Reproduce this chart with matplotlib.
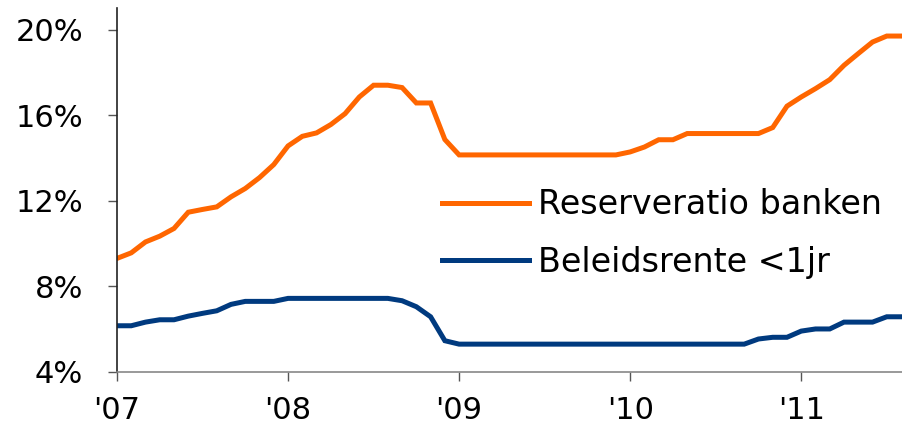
import numpy as np
import matplotlib
matplotlib.use("Agg")
import matplotlib.pyplot as plt

# monthly observations, Jan 2007 .. Aug 2011 (in %)
reserve_ratio = [
    9.30, 9.56, 10.07, 10.34, 10.70, 11.46, 11.59, 11.71, 12.18, 12.57, 13.08, 13.69,
    14.56, 15.01, 15.17, 15.56, 16.07, 16.85, 17.40, 17.40, 17.29, 16.57, 16.57, 14.86,
    14.14, 14.14, 14.14, 14.14, 14.14, 14.14, 14.14, 14.14, 14.14, 14.14, 14.14, 14.14,
    14.28, 14.51, 14.85, 14.85, 15.14, 15.14, 15.14, 15.14, 15.14, 15.14, 15.42, 16.42,
    16.85, 17.24, 17.66, 18.33, 18.88, 19.42, 19.70, 19.70,
]
policy_rate = [
    6.15, 6.15, 6.32, 6.43, 6.43, 6.60, 6.73, 6.85, 7.15, 7.29, 7.29, 7.29,
    7.43, 7.43, 7.43, 7.43, 7.43, 7.43, 7.43, 7.43, 7.32, 7.04, 6.57, 5.45,
    5.29, 5.29, 5.29, 5.29, 5.29, 5.29, 5.29, 5.29, 5.29, 5.29, 5.29, 5.29,
    5.29, 5.29, 5.29, 5.29, 5.29, 5.29, 5.29, 5.29, 5.29, 5.53, 5.61, 5.61,
    5.90, 6.00, 6.00, 6.32, 6.32, 6.32, 6.57, 6.57,
]
series_names = ["Reserveratio banken", "Beleidsrente <1jr"]
year_labels = ["'07", "'08", "'09", "'10", "'11"]
y_ticks = [4, 8, 12, 16, 20]

months = np.arange(len(reserve_ratio))

plt.rcParams['font.family'] = ['DejaVu Sans']

fig = plt.figure(figsize=(9.02, 4.34), dpi=100)
ax = fig.add_axes([0.1297, 0.1435, 0.8700, 0.8375])

ax.plot(months, reserve_ratio, color="#ff6600", linewidth=3.6,
        solid_joinstyle="miter", label=series_names[0])
ax.plot(months, policy_rate, color="#003a7f", linewidth=3.6,
        solid_joinstyle="miter", label=series_names[1])

ax.set_xlim(0, 55.05)
ax.set_ylim(4, 21)

ax.set_xticks(np.arange(len(year_labels)) * 12)
ax.set_xticklabels(year_labels)
ax.set_yticks(y_ticks)
ax.set_yticklabels([f"{v}%" for v in y_ticks])

ax.tick_params(axis="both", labelsize=22, length=6.5, width=1.0,
               color="#555555", labelcolor="black")
ax.tick_params(axis="y", pad=18)
ax.tick_params(axis="x", pad=11)

for side in ("top", "right"):
    ax.spines[side].set_visible(False)
ax.spines["left"].set_color("#222222")
ax.spines["bottom"].set_color("#888888")
ax.spines["left"].set_linewidth(1.2)
ax.spines["bottom"].set_linewidth(1.2)

ax.legend(loc="center left", bbox_to_anchor=(0.414, 0.380), frameon=False,
          fontsize=24, handlelength=2.6, handletextpad=0.27,
          labelspacing=0.73, borderaxespad=0, borderpad=0)

fig.savefig("out.png", dpi=100)
